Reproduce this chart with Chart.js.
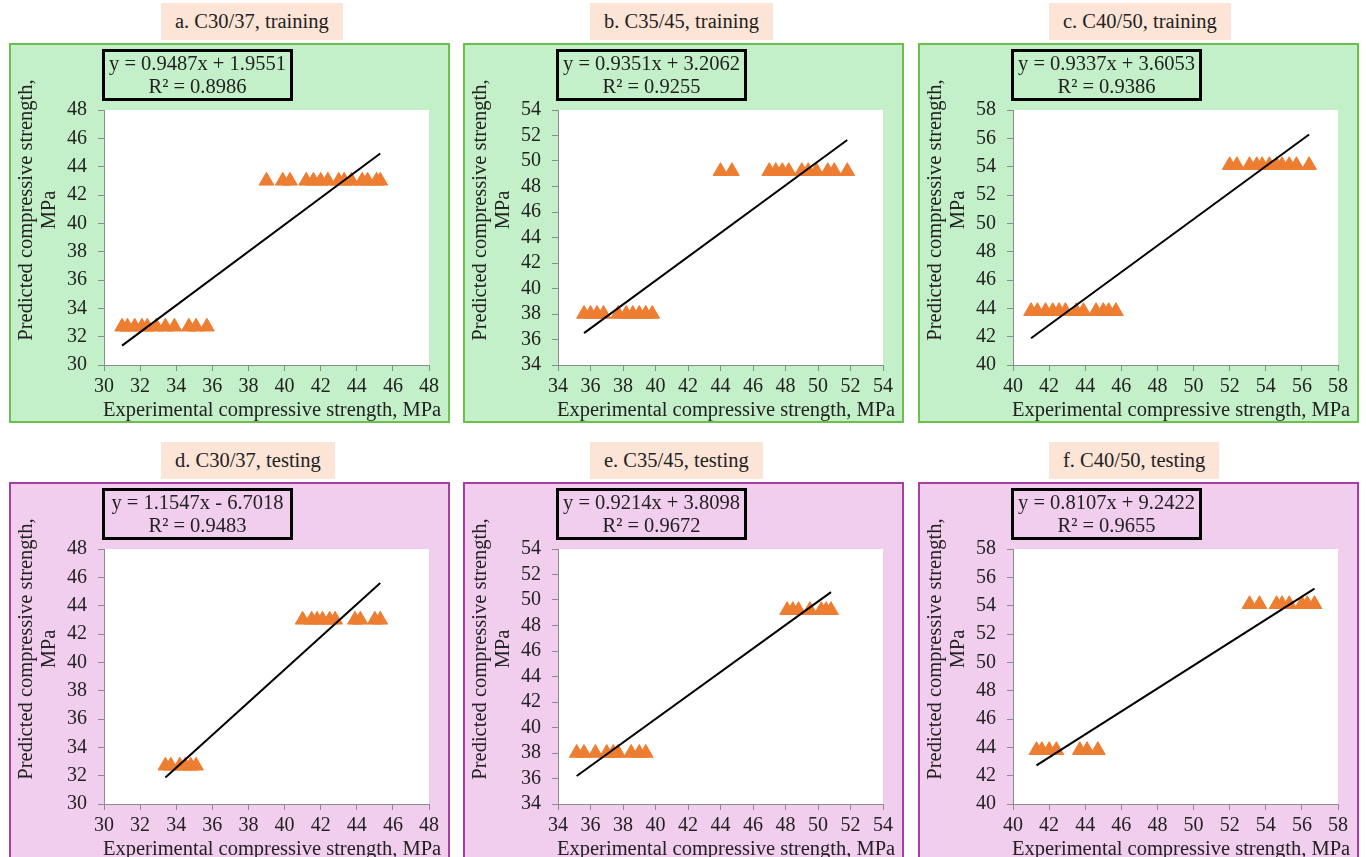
<!DOCTYPE html>
<html>
<head>
<meta charset="utf-8">
<title>Predicted vs experimental compressive strength</title>
<script src="https://cdn.jsdelivr.net/npm/chart.js@4.4.1/dist/chart.umd.min.js"></script>
<style>
body{margin:0;width:1366px;height:857px;overflow:hidden;background:#fff;position:relative;
  font-family:"Liberation Serif","Times New Roman",serif;color:#222}
.lbl{position:absolute;height:37px;line-height:37px;padding:0 14px;background:#fce4d6;font-size:20.5px;white-space:nowrap}
.box{position:absolute;width:441px;height:380px;box-sizing:border-box;border:2px solid}
.train{background:#c3f0c8;border-color:#6cbf4a}
.test{background:#f1cdee;border-color:#a63ea6}
.box canvas{position:absolute;left:-2px;top:-2px}
.eq{position:absolute;left:91px;top:4px;width:191px;height:52px;box-sizing:border-box;border:3px solid #000;
  text-align:center;font-size:20.5px;line-height:23px;white-space:nowrap}
.ytitle{position:absolute;left:-124px;top:142px;width:300px;height:46px;transform:rotate(-90deg);
  text-align:center;font-size:20.5px;line-height:23px;white-space:nowrap}
.xtitle{position:absolute;left:92px;top:353px;font-size:20.5px;line-height:23px;white-space:nowrap}
</style>
</head>
<body>
<script>
// DATA
const titles = ["a. C30/37, training", "b. C35/45, training", "c. C40/50, training",
                "d. C30/37, testing", "e. C35/45, testing", "f. C40/50, testing"];
const axisMin = [30, 34, 40, 30, 34, 40];
const axisMax = [48, 54, 58, 48, 54, 58];
const slope = [0.9487, 0.9351, 0.9337, 1.1547, 0.9214, 0.8107];
const intercept = [1.9551, 3.2062, 3.6053, -6.7018, 3.8098, 9.2422];
const r2 = [0.8986, 0.9255, 0.9386, 0.9483, 0.9672, 0.9655];

// experimental (x) / predicted (y)
const expA = [31.0, 31.3, 31.7, 32.1, 32.4, 32.9, 33.4, 33.9, 34.7, 35.1, 35.7,
              39.0, 39.9, 40.3, 41.2, 41.6, 42.0, 42.4, 43.0, 43.3, 43.7, 44.3, 44.6, 45.1, 45.3];
const predA = [32.7, 32.7, 32.7, 32.7, 32.7, 32.7, 32.7, 32.7, 32.7, 32.7, 32.7,
               43.0, 43.0, 43.0, 43.0, 43.0, 43.0, 43.0, 43.0, 43.0, 43.0, 43.0, 43.0, 43.0, 43.0];

const expB = [35.6, 36.0, 36.4, 36.8, 37.7, 38.2, 38.6, 39.0, 39.4, 39.8,
              44.0, 44.7, 47.0, 47.4, 47.8, 48.2, 49.0, 49.4, 49.9, 50.6, 51.0, 51.8];
const predB = [38.0, 38.0, 38.0, 38.0, 38.0, 38.0, 38.0, 38.0, 38.0, 38.0,
               49.2, 49.2, 49.2, 49.2, 49.2, 49.2, 49.2, 49.2, 49.2, 49.2, 49.2, 49.2];

const expC = [41.0, 41.35, 41.8, 42.2, 42.55, 42.9, 43.5, 43.9, 44.6, 45.0, 45.3, 45.7,
              52.0, 52.4, 53.1, 53.5, 53.8, 54.2, 54.6, 54.9, 55.3, 55.7, 56.4];
const predC = [43.8, 43.8, 43.8, 43.8, 43.8, 43.8, 43.8, 43.8, 43.8, 43.8, 43.8, 43.8,
               54.1, 54.1, 54.1, 54.1, 54.1, 54.1, 54.1, 54.1, 54.1, 54.1, 54.1];

const expD = [33.4, 33.7, 34.2, 34.5, 34.8, 35.1,
              41.0, 41.5, 41.8, 42.1, 42.5, 42.8, 43.9, 44.2, 45.0, 45.3];
const predD = [32.7, 32.7, 32.7, 32.7, 32.7, 32.7,
               43.0, 43.0, 43.0, 43.0, 43.0, 43.0, 43.0, 43.0, 43.0, 43.0];

const expE = [35.15, 35.6, 36.3, 37.0, 37.4, 37.7, 38.5, 39.0, 39.4,
              48.1, 48.45, 48.8, 49.5, 50.2, 50.5, 50.8];
const predE = [38.0, 38.0, 38.0, 38.0, 38.0, 38.0, 38.0, 38.0, 38.0,
               49.2, 49.2, 49.2, 49.2, 49.2, 49.2, 49.2];

const expF = [41.3, 41.6, 42.0, 42.4, 43.7, 44.1, 44.7,
              53.1, 53.65, 54.6, 54.9, 55.3, 56.0, 56.3, 56.7];
const predF = [43.8, 43.8, 43.8, 43.8, 43.8, 43.8, 43.8,
               54.1, 54.1, 54.1, 54.1, 54.1, 54.1, 54.1, 54.1];

const expAll = [expA, expB, expC, expD, expE, expF];
const predAll = [predA, predB, predC, predD, predE, predF];

// LAYOUT
const boxLeft = [9, 463, 918];
const boxTop = [43, 482];
const lblLeft = [161, 590, 1049];
const lblTop = [3, 442];

Chart.defaults.font.family = "'Liberation Serif','Times New Roman',serif";
Chart.defaults.font.size = 20;
Chart.defaults.color = "#222";

// white plot area
const plotBg = {
  id: "plotBg",
  beforeDraw(c){
    let a = c.chartArea, ctx = c.ctx;
    ctx.save();
    ctx.fillStyle = "#fff";
    ctx.fillRect(a.left, a.top, a.right - a.left, a.bottom - a.top);
    ctx.restore();
  }
};

function eqText(i){
  let b = intercept[i];
  return "y = " + slope[i].toFixed(4) + "x " + (b < 0 ? "- " : "+ ") + Math.abs(b).toFixed(4);
}

function axis(i, extra){
  return Object.assign({
    type: "linear",
    min: axisMin[i],
    max: axisMax[i],
    grid: {drawOnChartArea: false, tickLength: 6, color: "#8c8c8c"},
    border: {color: "#8c8c8c"}
  }, extra);
}

function panel(i){
  let col = i % 3, row = Math.floor(i / 3);

  let lbl = document.createElement("div");
  lbl.className = "lbl";
  lbl.style.left = lblLeft[col] + "px";
  lbl.style.top = lblTop[row] + "px";
  lbl.textContent = titles[i];
  document.body.appendChild(lbl);

  let box = document.createElement("div");
  box.className = "box " + (row ? "test" : "train");
  box.style.left = boxLeft[col] + "px";
  box.style.top = boxTop[row] + "px";
  box.innerHTML = '<canvas width="441" height="380"></canvas>' +
    '<div class="ytitle">Predicted compressive strength,<br>MPa</div>' +
    '<div class="xtitle">Experimental compressive strength, MPa</div>' +
    '<div class="eq">' + eqText(i) + '<br>R² = ' + r2[i].toFixed(4) + '</div>';
  document.body.appendChild(box);

  let xs = expAll[i], ys = predAll[i];
  let x0 = Math.min(...xs), x1 = Math.max(...xs);

  new Chart(box.querySelector("canvas"), {
    type: "scatter",
    data: {
      datasets: [{
        data: xs.map((x, k) => ({x: x, y: ys[k]})),
        pointStyle: "triangle",
        pointRadius: 8.5,
        pointHoverRadius: 8.5,
        backgroundColor: "#ed7d31",
        borderColor: "#ed7d31",
        borderWidth: 1,
        order: 2
      }, {
        // linear trendline from the equation shown
        data: [{x: x0, y: slope[i] * x0 + intercept[i]}, {x: x1, y: slope[i] * x1 + intercept[i]}],
        showLine: true,
        pointRadius: 0,
        borderColor: "#000",
        borderWidth: 2,
        order: 1
      }]
    },
    options: {
      responsive: false,
      animation: false,
      layout: {padding: {left: 0, right: 21, top: 67, bottom: 0}},
      plugins: {legend: {display: false}, tooltip: {enabled: false}},
      scales: {
        x: axis(i, {
          afterFit: s => { s.height = 58; },
          ticks: {stepSize: 2, autoSkip: false, maxRotation: 0, padding: 4}
        }),
        y: axis(i, {
          afterFit: s => { s.width = 95; },
          ticks: {stepSize: 2, autoSkip: false, padding: 11}
        })
      }
    },
    plugins: [plotBg]
  });
}

for (let i = 0; i < 6; i++) panel(i);
</script>
</body>
</html>
